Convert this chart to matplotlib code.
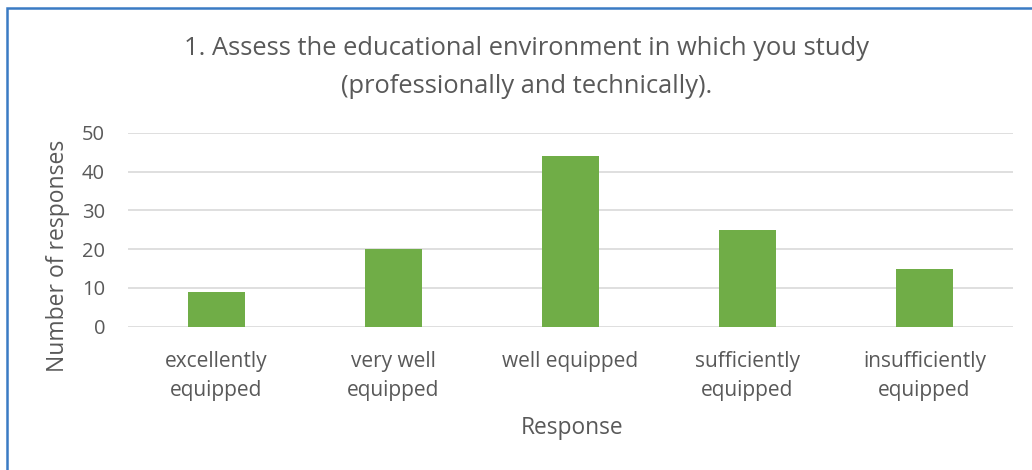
import matplotlib.pyplot as plt
from matplotlib.patches import Rectangle

categories = ['excellently\nequipped', 'very well\nequipped', 'well equipped',
              'sufficiently\nequipped', 'insufficiently\nequipped']
responses = [9, 20, 44, 25, 15]
yticks = [0, 10, 20, 30, 40, 50]

plt.rcParams['font.family'] = ['Open Sans', 'DejaVu Sans']
grey = '#595959'
W, H = 1032, 470

fig = plt.figure(figsize=(W / 100, H / 100), dpi=100)
ax = fig.add_axes([128 / W, 1 - 326.7 / H, 885 / W, 193.7 / H])

x = range(len(categories))
ax.bar(x, responses, width=0.32, color='#70ad47', zorder=3)

ax.set_xlim(-0.5, len(categories) - 0.5)
ax.set_ylim(0, 50)
ax.set_yticks(yticks)
ax.set_xticks(list(x))
ax.set_xticklabels(categories, fontsize=15, color=grey, linespacing=1.52)
ax.tick_params(axis='y', labelsize=14.5, labelcolor=grey, length=0, pad=16.5)
ax.tick_params(axis='x', length=0, pad=17.6)

ax.yaxis.grid(True, color='#d9d9d9', linewidth=1.2, zorder=0)
for s in ax.spines.values():
    s.set_visible(False)

# axis titles placed in figure pixels
fig.text(58 / W, 1 - 256 / H, 'Number of responses', rotation=90,
         ha='center', va='center', fontsize=16.5, color=grey)
fig.text(572 / W, 1 - 428 / H, 'Response',
         ha='center', va='center', fontsize=16.4, color=grey)

fig.text(527 / W, 1 - 67.5 / H,
         '1. Assess the educational environment in which you study\n(professionally and technically).',
         ha='center', va='center', fontsize=18.4, color=grey, linespacing=1.64)

# outer border (only top/left visible in the source crop)
fig.add_artist(Rectangle((7 / W, -0.1), 1.2, 1 - 8 / H + 0.1,
                         transform=fig.transFigure, fill=False,
                         edgecolor='#3a7bc4', linewidth=1.8))

plt.savefig('out.png', dpi=100)
